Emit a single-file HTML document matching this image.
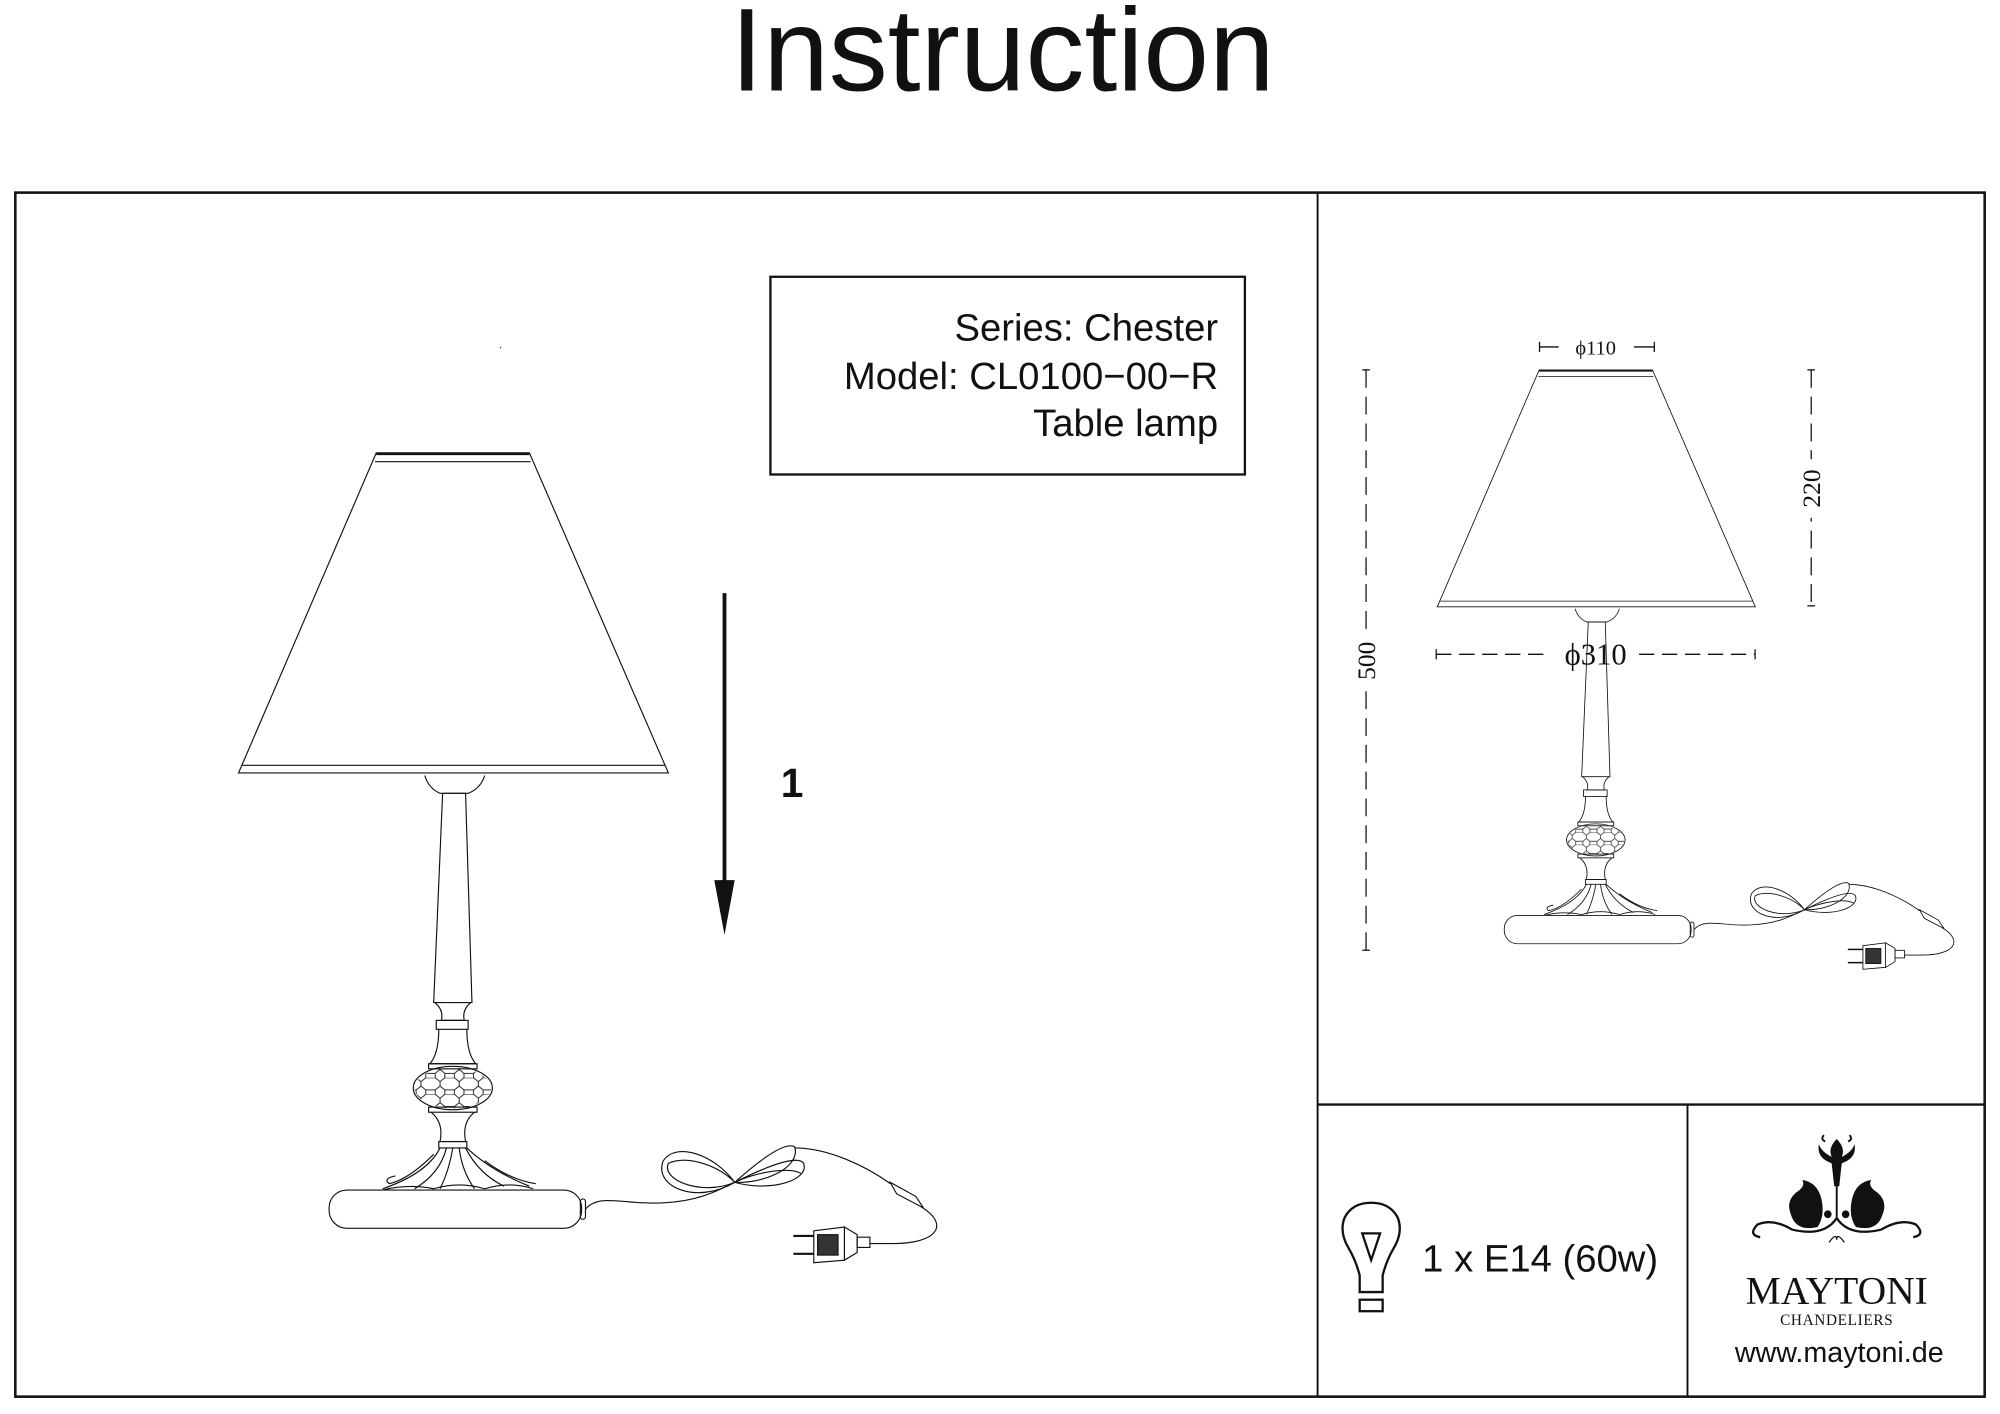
<!DOCTYPE html>
<html><head><meta charset="utf-8"><style>
html,body{margin:0;padding:0;background:#fff;}
svg{display:block;}
</style></head><body>
<svg width="2000" height="1414" viewBox="0 0 1568 1108.6" xmlns="http://www.w3.org/2000/svg">
<defs>
<pattern id="hex" x="0" y="0" width="15" height="13" patternUnits="userSpaceOnUse">
<path d="M0,3 L3.75,0 L11.25,0 L15,3 M3.75,0 L0,3 L0,6.5 M15,3 L15,6.5 L11.25,9.5 L3.75,9.5 L0,6.5 M11.25,9.5 L11.25,13 M3.75,9.5 L3.75,13" fill="none" stroke="#111" stroke-width="0.7"/>
</pattern>
<clipPath id="ballclip"><ellipse cx="355" cy="853" rx="30" ry="16"/></clipPath>
<g id="lamp" fill="none" stroke="#111" stroke-width="0.9">
<polygon points="295,355 415,355 524,606 187,606" fill="#fff"/>
<line x1="294" y1="362" x2="416" y2="362"/>
<line x1="190" y1="600" x2="521" y2="600"/>
<line x1="295" y1="356" x2="415" y2="356" stroke-width="1.6"/>
<path d="M333,608 Q336,618 345,622 L367,622 Q377,618 380,608"/>
<polygon points="347,622 365,622 370,786 340,786"/>
<path d="M341,786 Q348,792 346,800 L364,800 Q362,792 369,786"/>
<rect x="342" y="800" width="25" height="7"/>
<path d="M344,807 Q344,826 337,834 L373,834 Q366,826 366,807"/>
<rect x="336" y="834" width="38" height="4"/>
<ellipse cx="355" cy="853" rx="31" ry="17"/>
<rect x="325" y="836" width="60" height="34" fill="url(#hex)" clip-path="url(#ballclip)" stroke="none"/>
<rect x="336" y="868" width="38" height="4"/>
<path d="M338,872 Q348,880 345,895 L365,895 Q362,880 372,872"/>
<rect x="344" y="895" width="22" height="5"/>
<path d="M345,900 Q335,920 300,932 M350,900 Q345,920 325,932 M355,900 Q352,918 345,932 M360,900 Q362,918 372,932 M365,900 Q375,920 395,930 M366,900 Q385,918 415,930 M340,905 Q320,925 305,928 Q300,924 310,922 M380,910 Q400,925 420,928"/>
<path d="M300,933 Q320,928 340,932 Q360,926 380,932 Q400,926 418,932"/>
<rect x="258" y="933" width="198" height="30" rx="14" fill="#fff"/>
<rect x="455" y="940" width="4" height="16" rx="2"/>
<path d="M459,948 C470,935 490,945 520,943 C545,942 560,935 576,927"/>
<path d="M576,927 C560,905 530,895 520,910 C512,930 545,945 576,927"/>
<path d="M576,927 C565,915 540,905 524,912 C518,925 550,938 576,927"/>
<path d="M576,927 C600,915 625,905 630,912 C635,925 605,935 576,927"/>
<path d="M576,927 C595,910 615,895 623,899 C628,915 600,928 576,927"/>
<path d="M576,927 C595,918 620,915 628,920"/>
<path d="M623,900 C650,900 680,915 698,928"/>
<path d="M698,927 L718,938 L724,947 L703,936 Z"/>
<path d="M722,946 C745,960 735,975 700,975 L682,975"/>
<path d="M682,970 L682,978 L672,978 L672,970 Z"/>
<path d="M672,968 L662,962 L662,988 L672,982 Z"/>
<path d="M638,965 L662,962 L662,988 L638,990 Z" fill="#fff"/>
<rect x="641" y="968" width="16" height="16" fill="#333"/>
<line x1="622" y1="969" x2="638" y2="969" stroke-width="1.6"/>
<line x1="622" y1="983" x2="638" y2="983" stroke-width="1.6"/>
</g>
</defs>

<text x="786" y="71" font-family="Liberation Sans, sans-serif" font-size="92.5" text-anchor="middle" fill="#111">Instruction</text>

<g fill="none" stroke="#111">
<rect x="12" y="151" width="1544" height="944" stroke-width="2"/>
<line x1="1033" y1="151" x2="1033" y2="1095" stroke-width="1.5"/>
<line x1="1033" y1="866" x2="1556" y2="866" stroke-width="1.8"/>
<line x1="1323" y1="866" x2="1323" y2="1095" stroke-width="1.5"/>
<rect x="604" y="217" width="372" height="155" stroke-width="1.8"/>
</g>
<g font-family="Liberation Sans, sans-serif" font-size="30" fill="#111" text-anchor="end">
<text x="955" y="267">Series: Chester</text>
<text x="955" y="305">Model: CL0100−00−R</text>
<text x="955" y="342">Table lamp</text>
</g>
<rect x="392" y="272" width="1" height="1" fill="#333"/>

<line x1="568" y1="465" x2="568" y2="700" stroke="#111" stroke-width="3"/>
<polygon points="560,690 576,690 568,733" fill="#111"/>
<text x="621" y="625" font-family="Liberation Sans, sans-serif" font-size="32" font-weight="bold" fill="#111" text-anchor="middle">1</text>

<use href="#lamp"/>
<use href="#lamp" transform="translate(1251.5,290) scale(0.74) translate(-355.5,-355)"/>

<g stroke="#111" stroke-width="1" fill="none">
<line x1="1207" y1="272" x2="1222" y2="272"/><line x1="1281" y1="272" x2="1297" y2="272"/>
<line x1="1207" y1="268" x2="1207" y2="276"/><line x1="1297" y1="268" x2="1297" y2="276"/>
<line x1="1071" y1="290" x2="1071" y2="745" stroke-dasharray="14,7"/>
<line x1="1068" y1="290" x2="1074" y2="290"/><line x1="1068" y1="745" x2="1074" y2="745"/>
<line x1="1420" y1="290" x2="1420" y2="475" stroke-dasharray="14,7"/>
<line x1="1417" y1="290" x2="1423" y2="290"/><line x1="1417" y1="475" x2="1423" y2="475"/>
<line x1="1126" y1="513" x2="1215" y2="513" stroke-dasharray="12,6"/>
<line x1="1285" y1="513" x2="1376" y2="513" stroke-dasharray="12,6"/>
<line x1="1126" y1="509" x2="1126" y2="517"/><line x1="1376" y1="509" x2="1376" y2="517"/>
</g>
<rect x="1060" y="495" width="22" height="46" fill="#fff"/>
<rect x="1409" y="360" width="22" height="46" fill="#fff"/>
<g font-family="Liberation Serif, serif" fill="#111" text-anchor="middle">
<text x="1251" y="278" font-size="16">ϕ110</text>
<text x="1251" y="521" font-size="24">ϕ310</text>
<text transform="translate(1078,518) rotate(-90)" font-size="20">500</text>
<text transform="translate(1427,383) rotate(-90)" font-size="20">220</text>
</g>

<g fill="none" stroke="#111" stroke-width="1.8">
<path d="M1066,1013 L1066,1000 Q1063,988 1057,978 Q1050,966 1054,955 Q1060,943 1075,943 Q1090,943 1096,955 Q1100,966 1093,978 Q1087,988 1084,1000 L1084,1013 Z"/>
<polygon points="1068,967 1082,967 1075,988"/>
<rect x="1066" y="1019" width="18" height="9"/>
</g>
<text x="1115" y="997" font-family="Liberation Sans, sans-serif" font-size="30" fill="#111">1 x E14 (60w)</text>

<g fill="#111" stroke="#111">
<line x1="1440" y1="905" x2="1440" y2="955" stroke-width="1.5"/>
<path d="M1440,893 Q1447,900 1444,907 Q1452,903 1454,897 Q1456,908 1444,912 Q1443,920 1442,930 L1438,930 Q1437,920 1436,912 Q1424,908 1426,897 Q1428,903 1436,907 Q1433,900 1440,893 Z" stroke="none"/>
<path d="M1430,890 q-3,3 1,5 M1450,890 q3,3 -1,5" fill="none" stroke-width="1.5"/>
<path d="M1425,962 Q1408,966 1404,952 Q1400,942 1408,935 Q1416,930 1413,925 Q1425,927 1428,940 Q1431,953 1425,962 Z" stroke="none"/>
<path d="M1455,962 Q1472,966 1476,952 Q1480,942 1472,935 Q1464,930 1467,925 Q1455,927 1452,940 Q1449,953 1455,962 Z" stroke="none"/>
<path d="M1440,955 Q1430,970 1405,964 Q1390,955 1378,960 Q1370,968 1380,970 M1440,955 Q1450,970 1475,964 Q1490,955 1502,960 Q1510,968 1500,970" fill="none" stroke-width="1.8"/>
<circle cx="1433" cy="952" r="3" stroke="none"/><circle cx="1447" cy="952" r="3" stroke="none"/>
<path d="M1434,974 q6,-8 6,-2 q0,-6 6,2" fill="none" stroke-width="1"/>
</g>
<text x="1440" y="1022" font-family="Liberation Serif, serif" font-size="31" fill="#111" text-anchor="middle">MAYTONI</text>
<text x="1440" y="1039" font-family="Liberation Serif, serif" font-size="12" fill="#111" text-anchor="middle" letter-spacing="0.5">CHANDELIERS</text>
<text x="1442" y="1068" font-family="Liberation Sans, sans-serif" font-size="22.5" fill="#111" text-anchor="middle">www.maytoni.de</text>
</svg>
</body></html>
